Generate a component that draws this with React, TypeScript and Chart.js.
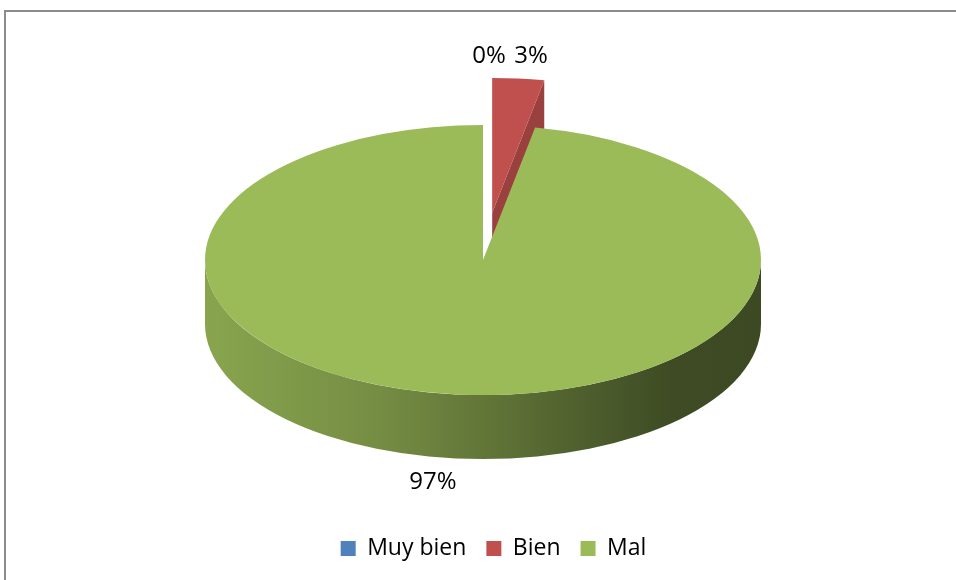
import { useEffect, useRef } from "react";
import { Chart, registerables } from "chart.js";

Chart.register(...registerables);

// ---- data ----
const categories = ["Muy bien", "Bien", "Mal"];
const values = [0, 3, 97];
const sliceColors = ["#4f81bd", "#c0504d", "#9bbb59"];

// ---- layout / style ----
const FONT = "'Open Sans', 'Noto Sans', sans-serif";
const PIE = { cx: 483, cy: 260, rx: 278, ry: 135, depth: 64 };
const EXPLODE = [0, 0.35, 0];
const LABEL_NUDGE: [number, number][] = [
  [6, -62],
  [12.7, -15.6],
  [-24, 30.6],
];
const SIDE_SHADE: [number, number][] = [
  [0, 0.88],
  [0.3, 0.76],
  [0.5, 0.63],
  [0.72, 0.48],
  [0.84, 0.4],
  [1, 0.39],
];
const FACE_SHADE = 0.8;

function shade(hex: string, f: number): string {
  const n = parseInt(hex.slice(1), 16);
  const r = Math.round(((n >> 16) & 255) * f);
  const g = Math.round(((n >> 8) & 255) * f);
  const b = Math.round((n & 255) * f);
  return `rgb(${r},${g},${b})`;
}

function geometry(chart: any) {
  const arcs = chart.getDatasetMeta(0).data as any[];
  return arcs.map((a: any, i: number) => {
    const s = a.startAngle;
    const e = a.endAngle;
    const m = (s + e) / 2;
    const f = EXPLODE[i] || 0;
    return {
      s,
      e,
      m,
      ex: f * PIE.rx * Math.cos(m),
      ey: f * PIE.ry * Math.sin(m),
    };
  });
}

const pie3d = {
  id: "pie3d",
  beforeDraw(chart: any) {
    const ctx = chart.ctx;
    ctx.save();
    ctx.fillStyle = "#ffffff";
    ctx.fillRect(0, 0, chart.width, chart.height);
    ctx.strokeStyle = "#8c8c8c";
    ctx.lineWidth = 2;
    ctx.strokeRect(5, 11, chart.width + 50, chart.height + 50);
    ctx.restore();
  },
  beforeDatasetsDraw(chart: any) {
    const ctx = chart.ctx as CanvasRenderingContext2D;
    const arcs = chart.getDatasetMeta(0).data as any[];
    if (!arcs.length) return false;
    const R = arcs[0].outerRadius;
    const ox = arcs[0].x;
    const oy = arcs[0].y;
    const sx = PIE.rx / R;
    const sy = PIE.ry / R;
    const geom = geometry(chart);
    const D = PIE.depth;

    ctx.save();
    // radial cut faces
    geom.forEach((g: any, i: number) => {
      if (g.e - g.s <= 0) return;
      const cx = PIE.cx + g.ex;
      const cy = PIE.cy + g.ey;
      const faces: number[] = [];
      if (-Math.cos(g.s) > 1e-6) faces.push(g.s);
      if (Math.cos(g.e) > 1e-6) faces.push(g.e);
      faces.forEach((t) => {
        const px = cx + PIE.rx * Math.cos(t);
        const py = cy + PIE.ry * Math.sin(t);
        ctx.beginPath();
        ctx.moveTo(cx, cy);
        ctx.lineTo(px, py);
        ctx.lineTo(px, py + D);
        ctx.lineTo(cx, cy + D);
        ctx.closePath();
        ctx.fillStyle = shade(sliceColors[i], FACE_SHADE);
        ctx.fill();
      });
    });
    // outer (front) sides
    geom.forEach((g: any, i: number) => {
      if (g.e - g.s <= 0) return;
      const cx = PIE.cx + g.ex;
      const cy = PIE.cy + g.ey;
      for (const k of [-2, 0, 2]) {
        const lo = Math.max(g.s, k * Math.PI);
        const hi = Math.min(g.e, k * Math.PI + Math.PI);
        if (hi <= lo) continue;
        const grad = ctx.createLinearGradient(cx - PIE.rx, 0, cx + PIE.rx, 0);
        SIDE_SHADE.forEach(([p, f]) => grad.addColorStop(p, shade(sliceColors[i], f)));
        ctx.beginPath();
        ctx.ellipse(cx, cy, PIE.rx, PIE.ry, 0, lo, hi, false);
        ctx.ellipse(cx, cy + D, PIE.rx, PIE.ry, 0, hi, lo, true);
        ctx.closePath();
        ctx.fillStyle = grad;
        ctx.fill();
      }
    });
    // top faces, drawn by the library's arc elements
    arcs.forEach((a: any, i: number) => {
      ctx.save();
      ctx.translate(PIE.cx + geom[i].ex, PIE.cy + geom[i].ey);
      ctx.scale(sx, sy);
      ctx.translate(-ox, -oy);
      a.draw(ctx);
      ctx.restore();
    });
    ctx.restore();
    return false;
  },
  afterDraw(chart: any) {
    const ctx = chart.ctx as CanvasRenderingContext2D;
    const geom = geometry(chart);
    const data = chart.data.datasets[0].data as number[];
    const total = data.reduce((a, b) => a + b, 0);
    ctx.save();
    ctx.font = `24px ${FONT}`;
    ctx.fillStyle = "#000000";
    ctx.textAlign = "center";
    ctx.textBaseline = "alphabetic";
    geom.forEach((g: any, i: number) => {
      const front = Math.sin(g.m) > 0 ? PIE.depth : 0;
      const px = PIE.cx + g.ex + PIE.rx * Math.cos(g.m) + LABEL_NUDGE[i][0];
      const py = PIE.cy + g.ey + PIE.ry * Math.sin(g.m) + front + LABEL_NUDGE[i][1];
      const pct = Math.round((data[i] / total) * 100);
      ctx.fillText(`${pct}%`, px, py);
    });
    ctx.restore();
  },
};

export default function App() {
  const ref = useRef<HTMLCanvasElement | null>(null);
  useEffect(() => {
    if (!ref.current) return;
    const chart = new Chart(ref.current, {
      type: "pie",
      data: {
        labels: categories,
        datasets: [
          {
            data: values,
            backgroundColor: sliceColors,
            borderWidth: 0,
            offset: 0,
          },
        ],
      },
      options: {
        responsive: false,
        animation: false,
        events: [],
        layout: { padding: { top: 20, bottom: 10, left: 41, right: 10 } },
        plugins: {
          legend: {
            position: "bottom",
            labels: {
              boxWidth: 15,
              boxHeight: 15,
              padding: 20,
              color: "#000000",
              font: { family: FONT, size: 23 },
            },
          },
          tooltip: { enabled: false },
        },
      },
      plugins: [pie3d as any],
    });
    return () => chart.destroy();
  }, []);
  return (
    <div style={{ position: "absolute", left: 0, top: 0, width: 956, height: 580 }}>
      <canvas ref={ref} width={956} height={580} style={{ display: "block" }} />
    </div>
  );
}
